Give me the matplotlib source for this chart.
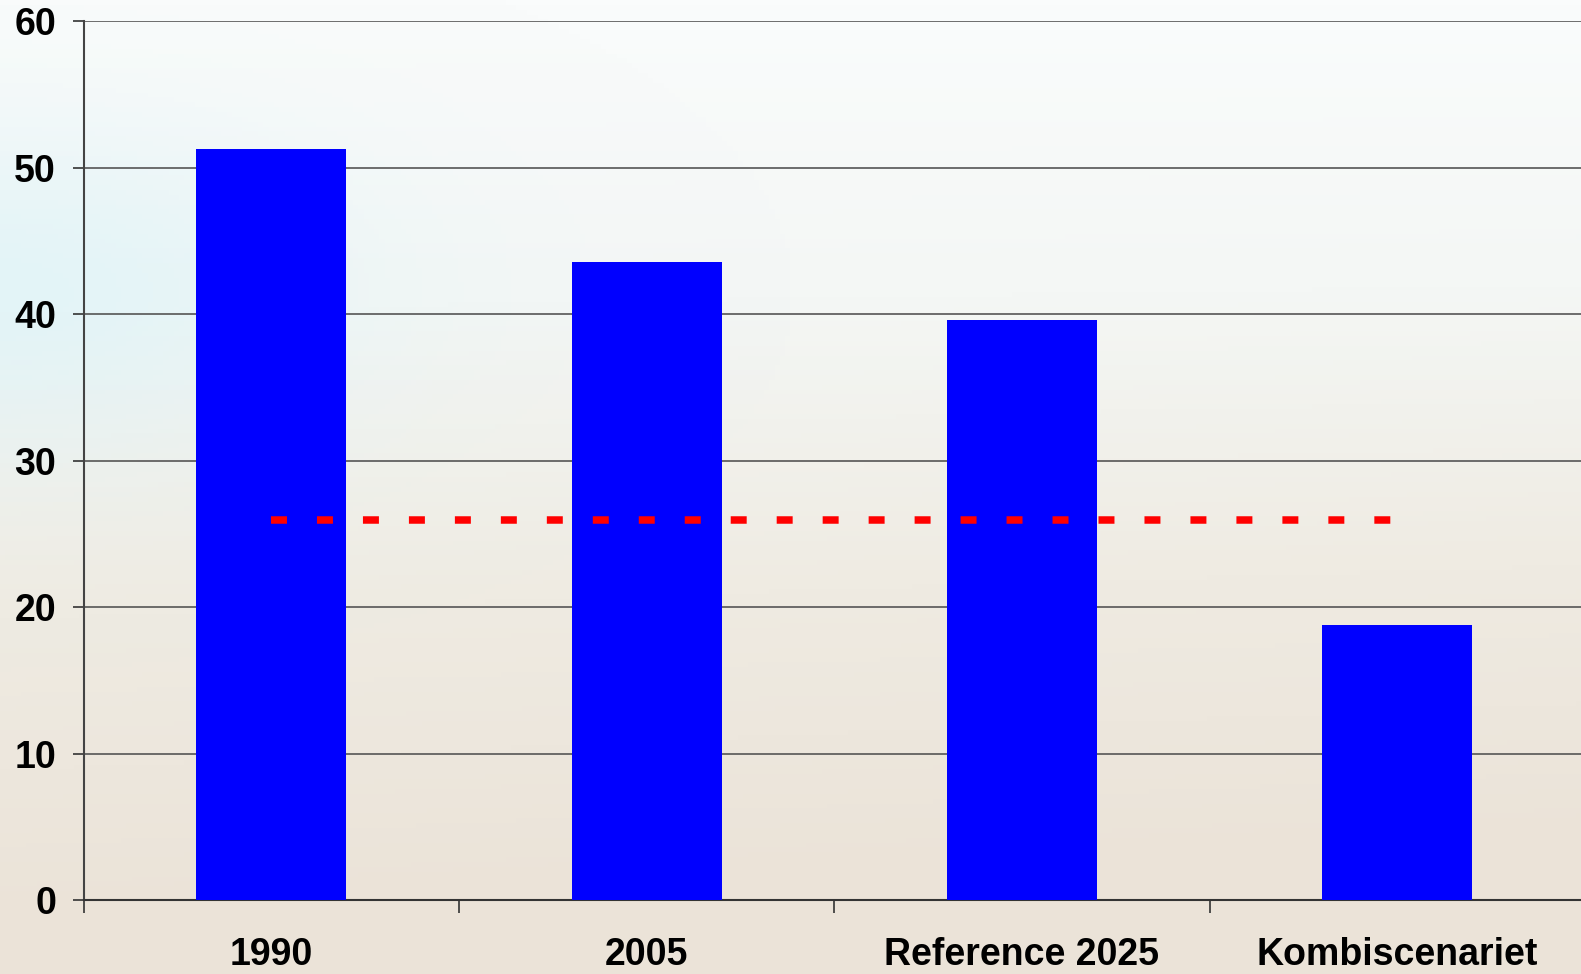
import numpy as np
import matplotlib
matplotlib.use("Agg")
import matplotlib.pyplot as plt
from matplotlib.colors import LinearSegmentedColormap

categories = ["1990", "2005", "Reference 2025", "Kombiscenariet"]
values = [51.3, 43.6, 39.6, 18.8]
target = 26.0
yticks = [0, 10, 20, 30, 40, 50, 60]

plt.rcParams['font.family'] = ['Liberation Sans', 'DejaVu Sans']
plt.rcParams['font.weight'] = 'bold'

fig = plt.figure(figsize=(15.81, 9.74), dpi=100)

# soft slide-like background
bg = fig.add_axes([0, 0, 1, 1], zorder=-10)
bg.axis('off')
ny, nx = 200, 300
yy, xx = np.mgrid[0:1:ny * 1j, 0:1:nx * 1j]
cmap = LinearSegmentedColormap.from_list(
    "bg", ["#fafcfc", "#f4f7f5", "#efebe2", "#ebe3d8"])
shade = np.clip(yy * 1.05 + 0.1 * xx * yy, 0, 1)
bg.imshow(shade, cmap=cmap, aspect='auto', extent=[0, 1, 0, 1], origin='upper')
# faint bluish tint on the upper left
tint = np.exp(-((xx - 0.0) ** 2 / 0.05 + (yy - 0.3) ** 2 / 0.03))
rgba = np.zeros((ny, nx, 4))
rgba[..., 0] = 0.85
rgba[..., 1] = 0.95
rgba[..., 2] = 0.98
rgba[..., 3] = tint * 0.6
bg.imshow(rgba, aspect='auto', extent=[0, 1, 0, 1], origin='upper')
bg.set_xlim(0, 1)
bg.set_ylim(0, 1)

ax = fig.add_axes([0.053, 0.0755, 0.947, 0.9025])
ax.patch.set_alpha(0)

x = np.arange(len(categories))
ax.bar(x, values, width=0.4, color='#0000ff', zorder=3)

plt.rcParams['lines.scale_dashes'] = False
ax.plot([x[0], x[-1]], [target, target], color='#ff0000', linewidth=5.4,
        dashes=(11.5, 21.6), solid_capstyle='butt', dash_capstyle='butt', zorder=4)

ax.set_ylim(0, 60)
ax.set_xlim(-0.5, 3.49)
ax.set_yticks(yticks)
ax.set_yticklabels([str(v) for v in yticks], fontsize=27, fontweight='bold')
ax.grid(axis='y', color='#555555', linewidth=1.2, zorder=0)
ax.set_axisbelow(True)

ax.set_xticks(x)
ax.set_xticklabels(categories, fontsize=27, fontweight='bold')
ax.tick_params(axis='x', length=0, pad=26)
ax.set_xticks([-0.5, 0.5, 1.5, 2.5], minor=True)
ax.tick_params(axis='x', which='minor', length=9, width=1.2, color='#333333')
ax.tick_params(axis='y', length=8, width=1.2, color='#333333', pad=12)

for side in ['top', 'right']:
    ax.spines[side].set_visible(False)
ax.spines['left'].set_color('#444444')
ax.spines['left'].set_linewidth(1.5)
ax.spines['bottom'].set_color('#333333')
ax.spines['bottom'].set_linewidth(1.5)

fig.savefig("out.png", dpi=100)
